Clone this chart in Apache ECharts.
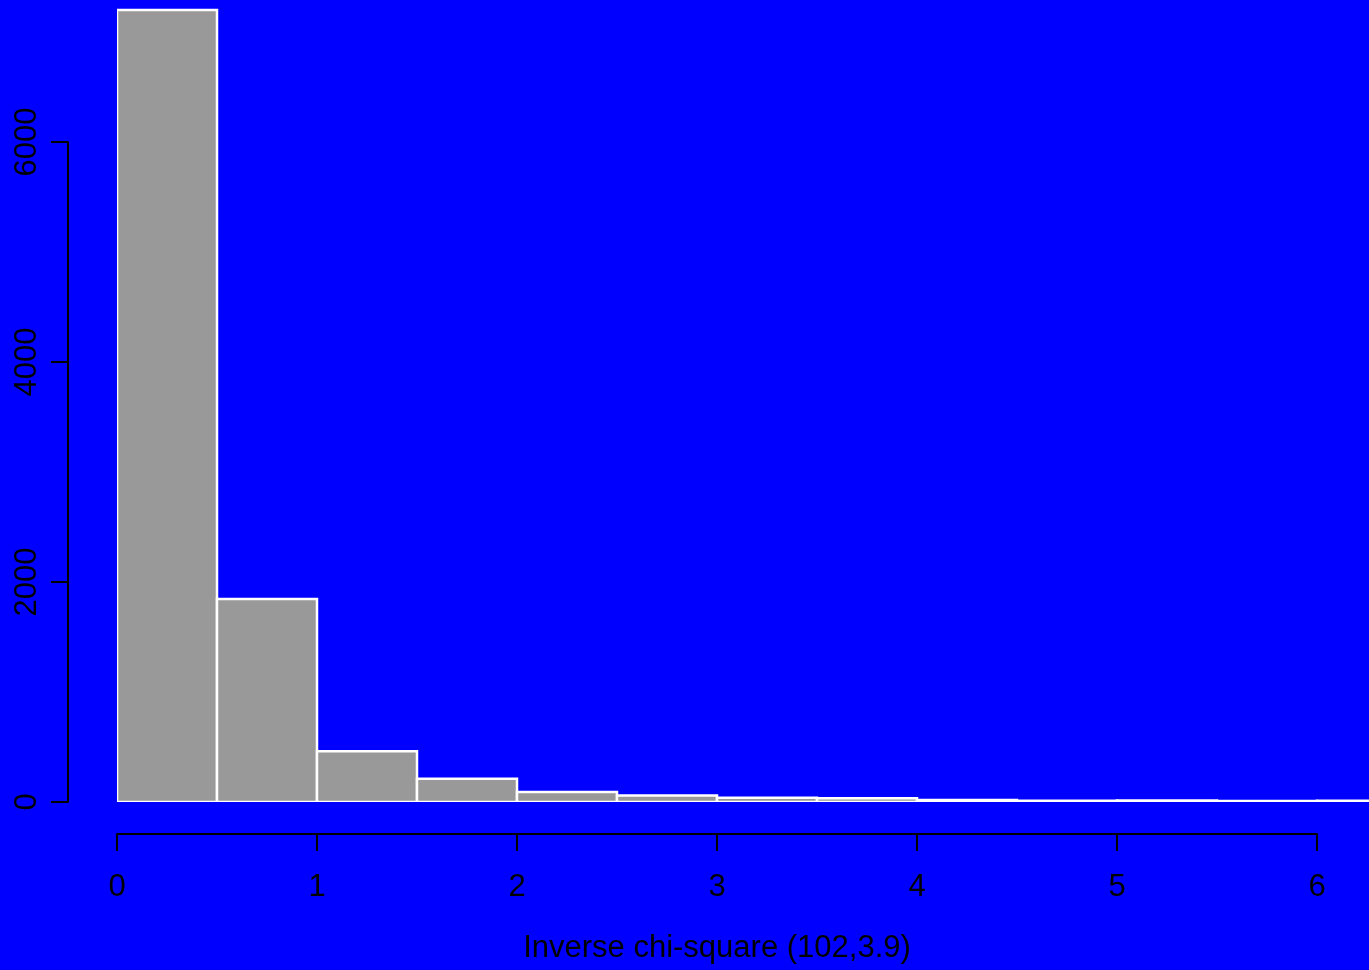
<!DOCTYPE html>
<html>
<head>
<meta charset="utf-8">
<script src="https://cdn.jsdelivr.net/npm/echarts@6/dist/echarts.min.js"></script>
<style>
html,body{margin:0;padding:0;background:#0000ff;}
#chart{width:1369px;height:970px;}
</style>
</head>
<body>
<div id="chart"></div>
<script>
// bin starts (width 0.5) and counts
var binStarts = [0, 0.5, 1, 1.5, 2, 2.5, 3, 3.5, 4, 4.5, 5, 5.5, 6];
var binWidth = 0.5;
var counts = [7200, 1845, 462, 212, 90, 60, 38, 33, 18, 12, 14, 8, 12];
var xTicks = [0, 1, 2, 3, 4, 5, 6];
var yTicks = [0, 2000, 4000, 6000];
var xTitle = 'Inverse chi-square (102,3.9)';

var FONT = 'Liberation Sans, Arial, Helvetica, sans-serif';
var FS = 31;

var data = binStarts.map(function (s, i) { return [s, s + binWidth, counts[i]]; });

var chart = echarts.init(document.getElementById('chart'), null, {renderer: 'canvas'});
chart.setOption({
  backgroundColor: '#0000ff',
  animation: false,
  grid: [
    {left: 117, top: 0, width: 1252, height: 802},
    {left: 117, top: 833, width: 1200, height: 1},
    {left: 68, top: 142, width: 1, height: 660}
  ],
  xAxis: [
    {gridIndex: 0, type: 'value', min: 0, max: 6.26, show: false},
    {gridIndex: 1, type: 'value', min: 0, max: 6, interval: 1, position: 'bottom',
     axisLine: {show: true, lineStyle: {color: '#000', width: 2}},
     axisTick: {show: true, length: 17, lineStyle: {color: '#000', width: 2}},
     axisLabel: {show: true, color: '#000', fontSize: FS, fontFamily: FONT, margin: 38,
       customValues: xTicks, formatter: function (v) { return String(v); }},
     splitLine: {show: false},
     name: xTitle, nameLocation: 'middle', nameGap: 99,
     nameTextStyle: {color: '#000', fontSize: FS, fontFamily: FONT}},
    {gridIndex: 2, type: 'value', min: 0, max: 1, show: false}
  ],
  yAxis: [
    {gridIndex: 0, type: 'value', min: 0, max: 7290, show: false},
    {gridIndex: 1, type: 'value', min: 0, max: 1, show: false},
    {gridIndex: 2, type: 'value', min: 0, max: 6000, interval: 2000, position: 'left',
     axisLine: {show: true, lineStyle: {color: '#000', width: 2}},
     axisTick: {show: true, length: 17, lineStyle: {color: '#000', width: 2}},
     axisLabel: {show: true, color: '#000', fontSize: FS, fontFamily: FONT, rotate: 90, margin: 25,
       customValues: yTicks, formatter: function (v) { return String(v); }},
     splitLine: {show: false}}
  ],
  series: [{
    type: 'custom',
    xAxisIndex: 0, yAxisIndex: 0,
    clip: true,
    data: data,
    renderItem: function (params, api) {
      var p0 = api.coord([api.value(0), api.value(2)]);
      var p1 = api.coord([api.value(1), 0]);
      return {
        type: 'rect',
        shape: {x: p0[0], y: p0[1], width: p1[0] - p0[0], height: p1[1] - p0[1]},
        style: {fill: '#999999', stroke: '#ffffff', lineWidth: 2.5}
      };
    }
  }]
});
</script>
</body>
</html>
